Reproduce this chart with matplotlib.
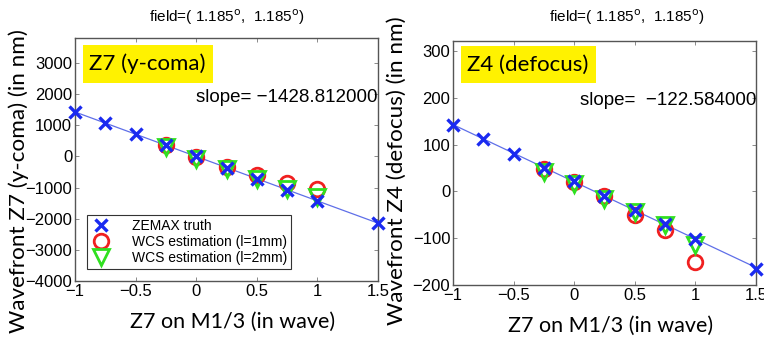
import matplotlib
matplotlib.use("Agg")
import matplotlib.pyplot as plt
from matplotlib.patches import Rectangle
import numpy as np

# data
z7_wave = [-1, -0.75, -0.5, -0.25, 0, 0.25, 0.5, 0.75, 1, 1.5]
z7_est = [-0.25, 0, 0.25, 0.5, 0.75, 1]

coma_truth = [1425, 1070, 710, 357, 0, -357, -715, -1072, -1429, -2143]
coma_1mm = [360, -20, -340, -600, -850, -1050]
coma_2mm = [300, -70, -400, -720, -1050, -1300]

defocus_truth = [142, 112, 80, 50, 22, -9, -40, -70, -101, -165]
defocus_1mm = [48, 20, -11, -51, -83, -150]
defocus_2mm = [41, 16, -17, -45, -72, -115]

xticks = [-1, -0.5, 0, 0.5, 1, 1.5]
xtick_labels = ["\u22121", "\u22120.5", "0", "0.5", "1", "1.5"]

W, H = 764, 342
fig = plt.figure(figsize=(W / 100, H / 100), dpi=100)
plt.rcParams['font.family'] = ['Liberation Sans', 'DejaVu Sans']


def px(x0, y0, x1, y1):
    # pixel box -> figure fraction rect
    return [x0 / W, 1 - y1 / H, (x1 - x0) / W, (y1 - y0) / H]


def panel(rect, truth, est1, est2, ylim, yticks, ylabel, ylab_y, slope_txt, legend):
    ax = fig.add_axes(rect)
    fit = np.polyfit(z7_wave, truth, 1)
    xx = np.array([z7_wave[0], z7_wave[-1]])
    ax.plot(xx, np.polyval(fit, xx), color='#5f6fe8', lw=0.9, zorder=2)
    ax.plot(z7_wave, truth, 'x', color='#1a2af0', ms=8.5, mew=2.4, zorder=4,
            label='ZEMAX truth', clip_on=False)
    ax.plot(z7_est, est1, 'o', mfc='none', mec='#f02020', ms=10.5, mew=2, zorder=3,
            label='WCS estimation (l=1mm)')
    ax.plot(z7_est, est2, 'v', mfc='none', mec='#30e020', ms=11, mew=2, zorder=3,
            label='WCS estimation (l=2mm)')
    ax.set_xlim(-1, 1.5)
    ax.set_ylim(*ylim)
    ax.set_xticks(xticks)
    ax.set_xticklabels(xtick_labels)
    ax.set_yticks(yticks)
    ax.set_yticklabels([("\u2212%d" % -v) if v < 0 else "%d" % v for v in yticks])
    ax.tick_params(direction='in', top=True, right=True, labelsize=12, length=3,
                   width=0.6, color='#777777', pad=2)
    for s in ax.spines.values():
        s.set_color('#555555')
        s.set_linewidth(1.0)
    ax.set_ylabel(ylabel, family=['Lato', 'DejaVu Sans'], fontsize=16.2)
    ax.yaxis.set_label_coords(-0.152, ylab_y)
    ax.set_xlabel("Z7 on M1/3 (in wave)", family=['Lato', 'DejaVu Sans'], fontsize=15.5)
    ax.xaxis.set_label_coords(0.52, -0.125)
    ax.text(1.0, 0.757, slope_txt, transform=ax.transAxes, ha='right', va='center',
            fontsize=13.5)
    if legend:
        leg = ax.legend(loc='lower left', bbox_to_anchor=(0.03, 0.04), fontsize=10,
                        fancybox=False, edgecolor='#333333', framealpha=1,
                        handlelength=1.6, borderpad=0.25, labelspacing=0.15,
                        handletextpad=1.4, borderaxespad=0.2)
        leg.get_frame().set_linewidth(0.8)
    return ax


ax1 = panel(px(75, 38, 378, 281), coma_truth, coma_1mm, coma_2mm, (-4000, 3800),
            [-4000, -3000, -2000, -1000, 0, 1000, 2000, 3000],
            "Wavefront Z7 (y-coma) (in nm)", 0.41, "slope= \u22121428.812000", True)
ax2 = panel(px(453, 41, 756, 285), defocus_truth, defocus_1mm, defocus_2mm, (-200, 321),
            [-200, -100, 0, 100, 200, 300],
            "Wavefront Z4 (defocus) (in nm)", 0.47, "slope=  \u2212122.584000", False)

title = "field=( 1.185$^{\\mathrm{o}}$,  1.185$^{\\mathrm{o}}$)"
fig.text(227 / W, 1 - 17 / H, title, ha='center', va='center', fontsize=11)
fig.text(627 / W, 1 - 17 / H, title, ha='center', va='center', fontsize=11)

# yellow label boxes
for (x0, y0, x1, y1), txt in [((83, 45, 213, 83), "Z7 (y-coma)"),
                              ((461, 46, 596, 83), "Z4 (defocus)")]:
    fig.patches.append(Rectangle((x0 / W, 1 - y1 / H), (x1 - x0) / W, (y1 - y0) / H,
                                 transform=fig.transFigure, facecolor='#fff200',
                                 edgecolor='none', zorder=5))
    fig.text((x0 + 6) / W, 1 - (y0 + y1) / 2 / H, txt, ha='left', va='center',
             fontsize=16, family=['Lato', 'DejaVu Sans'], zorder=6)

fig.savefig("out.png", dpi=100)
